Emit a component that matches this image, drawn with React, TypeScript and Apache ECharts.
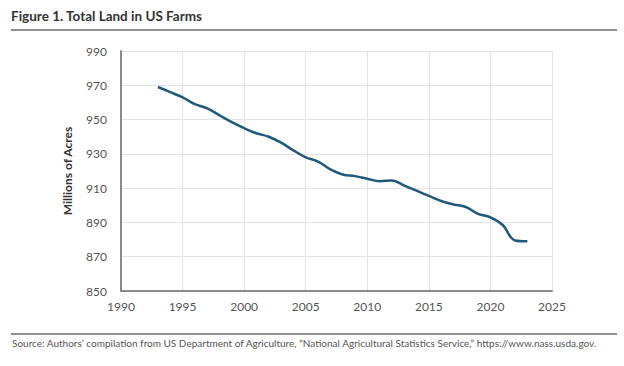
import React, { useEffect, useRef } from "react";
import * as echarts from "echarts";

const years = [1993, 1994, 1995, 1996, 1997, 1998, 1999, 2000, 2001, 2002, 2003, 2004, 2005, 2006, 2007, 2008, 2009, 2010, 2011, 2012, 2013, 2014, 2015, 2016, 2017, 2018, 2019, 2020, 2021, 2022, 2023];
const acres = [969, 966, 963, 959, 956.5, 952.5, 948.5, 945, 942, 940, 936.5, 932, 928, 925.5, 921, 918, 917, 915.5, 914, 914.5, 911.5, 908.5, 905.5, 902.5, 900.5, 899, 895, 893, 888.5, 879.5, 879];

const titleText = "Figure 1. Total Land in US Farms";
const sourceText = "Source: Authors\u2019 compilation from US Department of Agriculture, \u201CNational Agricultural Statistics Service,\u201D https://www.nass.usda.gov.";
const yAxisName = "Millions of Acres";

export default function App() {
  const ref = useRef<HTMLDivElement>(null);
  useEffect(() => {
    if (!ref.current) return;
    const chart = echarts.init(ref.current, null, { renderer: "svg" });
    const font = "Lato, 'Open Sans', sans-serif";
    chart.setOption({
      animation: false,
      backgroundColor: "#ffffff",
      textStyle: { fontFamily: font },
      grid: { left: 121, right: 72, top: 51, bottom: 75, containLabel: false },
      xAxis: {
        type: "value",
        min: 1990,
        max: 2025,
        interval: 5,
        axisLine: { show: true, lineStyle: { color: "#8a8a8a", width: 2 } },
        axisTick: { show: false },
        axisLabel: { color: "#555", fontSize: 12, margin: 9, fontFamily: font, formatter: (v: number) => String(v) },
        splitLine: { show: true, lineStyle: { color: "#e3e3e3", width: 1 } },
      },
      yAxis: {
        type: "value",
        min: 850,
        max: 990,
        interval: 20,
        name: yAxisName,
        nameLocation: "middle",
        nameGap: 48,
        nameTextStyle: { color: "#333", fontSize: 12, fontWeight: "bold", fontFamily: font },
        axisLine: { show: true, lineStyle: { color: "#8a8a8a", width: 2 } },
        axisTick: { show: false },
        axisLabel: { color: "#555", fontSize: 12, margin: 14, fontFamily: font },
        splitLine: { show: true, lineStyle: { color: "#e3e3e3", width: 1 } },
      },
      series: [
        {
          type: "line",
          data: years.map((y, i) => [y, acres[i]]),
          smooth: 0.4,
          showSymbol: false,
          lineStyle: { color: "#1f5a7d", width: 2.5 },
          z: 3,
        },
      ],
      graphic: [
        {
          type: "text",
          left: 11,
          top: 9,
          style: { text: titleText, font: `bold 13.5px ${font}`, fill: "#333" },
        },
        {
          type: "line",
          shape: { x1: 11, y1: 30, x2: 617, y2: 30 },
          style: { stroke: "#8f8f8f", lineWidth: 2 },
        },
        {
          type: "line",
          shape: { x1: 11, y1: 334, x2: 617, y2: 334 },
          style: { stroke: "#8f8f8f", lineWidth: 2 },
        },
        {
          type: "text",
          left: 12,
          top: 338,
          style: { text: sourceText, font: `10px ${font}`, fill: "#555" },
        },
      ],
    });
    return () => chart.dispose();
  }, []);
  return <div ref={ref} style={{ position: "absolute", left: 0, top: 0, width: 624, height: 366 }} />;
}
